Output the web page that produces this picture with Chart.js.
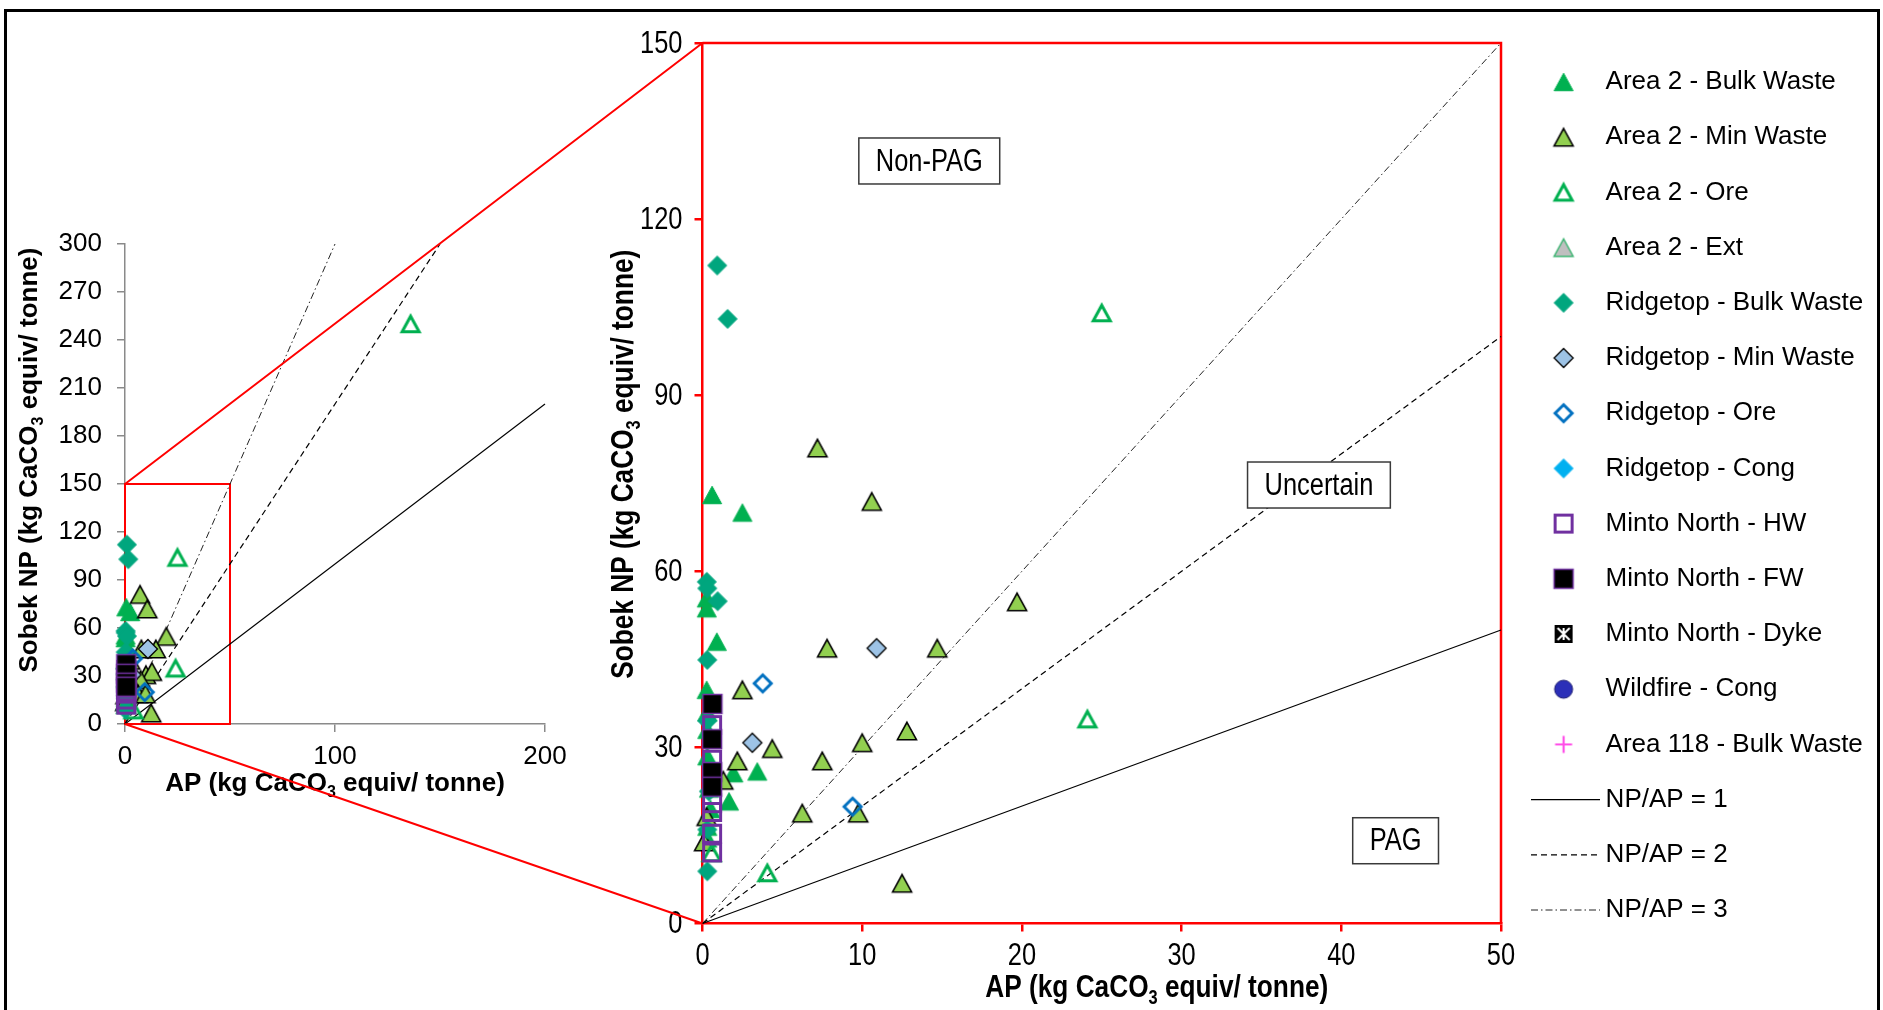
<!DOCTYPE html>
<html>
<head>
<meta charset="utf-8">
<title>Sobek NP vs AP</title>
<script src="https://cdn.jsdelivr.net/npm/chart.js@4.4.1/dist/chart.umd.min.js"></script>
<style>
  html, body { margin: 0; padding: 0; background: #fff; }
  #page { position: relative; width: 1883px; height: 1010px; overflow: hidden; background: #fff; }
  #frame { position: absolute; left: 4px; top: 9px; width: 1876px; height: 1100px; border: 3px solid #000; box-sizing: border-box; }
  canvas { position: absolute; }
  #overview { left: 0; top: 200px; }
  #detail { left: 560px; top: 0; }
  #links { left: 0; top: 0; pointer-events: none; }
</style>
</head>
<body>
<div id="page">
  <div id="frame"></div>
  <canvas id="overview" width="580" height="620"></canvas>
  <canvas id="detail" width="1323" height="1010"></canvas>
  <canvas id="links" width="1883" height="1010"></canvas>
</div>
<script>
// axis limits, kg CaCO3 equiv/ tonne
const overviewXMax = 200, overviewYMax = 300;
const overviewXStep = 100, overviewYStep = 30;
const detailXMax = 50, detailYMax = 150;
const detailXStep = 10, detailYStep = 30;

// samples as [AP, NP]
const area2Bulk = [[0.6, 73], [2.5, 70], [0.27, 55.4], [0.27, 53.7], [0.9, 48], [0.26, 39.8],
  [1.93, 25.6], [3.43, 25.9], [1.66, 20.8], [0.3, 36], [0.3, 33], [0.3, 28.5], [0.4, 23],
  [0.5, 19.5], [0.3, 16.5], [0.3, 14.5]];
const area2Min = [[7.2, 81], [10.6, 71.9], [19.7, 54.8], [7.8, 46.9], [14.7, 46.9], [2.5, 39.8],
  [4.37, 29.8], [10.0, 30.8], [12.8, 32.8], [7.5, 27.7], [2.18, 27.7], [1.3, 24.4], [6.25, 18.8],
  [9.75, 18.8], [12.5, 6.85], [0.26, 18.2], [0.1, 13.9]];
const area2Ore = [[25, 104], [24.1, 34.8], [4.06, 8.6], [0.57, 12], [136, 250]];
const area2Ext = [];
const ridgeBulk = [[0.92, 112.1], [1.57, 103], [0.27, 58.2], [0.3, 57.1], [0.95, 54.9], [0.3, 44.9],
  [0.3, 8.9], [0.3, 34.5], [0.4, 22.5], [0.3, 16]];
const ridgeMin = [[10.9, 46.9], [3.12, 30.8]];
const ridgeOre = [[3.77, 40.9], [9.4, 19.9]];
const ridgeCong = [];
const mintoHW = [[0.6, 33.8], [0.6, 27.9], [0.6, 20.5], [0.6, 19], [0.6, 15.3], [0.6, 12.1]];
const mintoFW = [[0.62, 37.4], [0.6, 31.4], [0.6, 25.8], [0.6, 23.3]];
const mintoDyke = [];
const wildfireCong = [];
const area118Bulk = [];

// NP/AP reference ratios
const npApRatios = [1, 2, 3];

// classification labels, placed in data units of the detail plot
const zoneNames = ["Non-PAG", "Uncertain", "PAG"];
const zoneAP = [14.2, 38.6, 43.4];
const zoneNP = [129.9, 74.7, 14.1];

const SANS = '"Liberation Sans", Arial, sans-serif';
const SQUEEZE = 0.82; // narrow lettering of the detail plot
Chart.defaults.font.family = SANS;
Chart.defaults.color = "#000";

// marker bitmaps, shared by the points and the legend
function makeMarker(shape, half, fill, stroke, lw) {
  const size = 28, c = size / 2;
  const cv = document.createElement("canvas");
  cv.width = cv.height = size;
  const g = cv.getContext("2d");
  g.beginPath();
  if (shape === "triangle") {
    g.moveTo(c, c - half * 0.92);
    g.lineTo(c + half, c + half * 0.92);
    g.lineTo(c - half, c + half * 0.92);
    g.closePath();
  } else if (shape === "diamond") {
    g.moveTo(c, c - half); g.lineTo(c + half, c); g.lineTo(c, c + half); g.lineTo(c - half, c);
    g.closePath();
  } else if (shape === "square") {
    g.rect(c - half, c - half, half * 2, half * 2);
  } else if (shape === "circle") {
    g.arc(c, c, half, 0, Math.PI * 2);
  } else if (shape === "plus") {
    g.moveTo(c - half, c); g.lineTo(c + half, c);
    g.moveTo(c, c - half); g.lineTo(c, c + half);
  }
  if (fill) { g.fillStyle = fill; g.fill(); }
  if (stroke) { g.strokeStyle = stroke; g.lineWidth = lw; g.stroke(); }
  if (shape === "dyke") {
    g.fillStyle = "#000";
    g.fillRect(c - half, c - half, half * 2, half * 2);
    g.strokeStyle = "#fff"; g.lineWidth = 2;
    const k = half - 3;
    g.beginPath();
    g.moveTo(c - k, c - k); g.lineTo(c + k, c + k);
    g.moveTo(c + k, c - k); g.lineTo(c - k, c + k);
    g.moveTo(c, c - k); g.lineTo(c, c + k);
    g.stroke();
  }
  return cv;
}

const series = [
  { label: "Area 2 - Bulk Waste", pts: area2Bulk, marker: makeMarker("triangle", 9.5, "#00B050", "#00B050", 1) },
  { label: "Area 2 - Min Waste", pts: area2Min, marker: makeMarker("triangle", 9.5, "#92D050", "#000", 1.6) },
  { label: "Area 2 - Ore", pts: area2Ore, marker: makeMarker("triangle", 8.5, null, "#00B050", 3) },
  { label: "Area 2 - Ext", pts: area2Ext, marker: makeMarker("triangle", 9.5, "#BFBFBF", "#3CB371", 1.5) },
  { label: "Ridgetop - Bulk Waste", pts: ridgeBulk, marker: makeMarker("diamond", 9.5, "#00A67E", "#00A67E", 1) },
  { label: "Ridgetop - Min Waste", pts: ridgeMin, marker: makeMarker("diamond", 9.5, "#9DC3E6", "#000", 1.3) },
  { label: "Ridgetop - Ore", pts: ridgeOre, marker: makeMarker("diamond", 8.5, null, "#0070C0", 3) },
  { label: "Ridgetop - Cong", pts: ridgeCong, marker: makeMarker("diamond", 9.5, "#00B0F0", "#00B0F0", 1) },
  { label: "Minto North - HW", pts: mintoHW, marker: makeMarker("square", 8.5, null, "#7030A0", 3) },
  { label: "Minto North - FW", pts: mintoFW, marker: makeMarker("square", 9.5, "#000", "#7030A0", 1.5) },
  { label: "Minto North - Dyke", pts: mintoDyke, marker: makeMarker("dyke", 9) },
  { label: "Wildfire - Cong", pts: wildfireCong, marker: makeMarker("circle", 9, "#2B2FB8", "#1A1A70", 1) },
  { label: "Area 118 - Bulk Waste", pts: area118Bulk, marker: makeMarker("plus", 8.5, null, "#FF4FE8", 2.2) },
];

const ratioStyles = [
  { dash: [], color: "#000", width: 1.2 },
  { dash: [6, 4], color: "#000", width: 1.2 },
  { dash: [7, 3, 1.5, 3], color: "#222", width: 1 },
];

function buildDatasets(xMax, yMax) {
  const n = series.length;
  const points = series.map((s, i) => ({
    label: s.label,
    data: s.pts.map(p => ({ x: p[0], y: p[1] })),
    pointStyle: s.marker,
    pointRadius: 10,
    pointHoverRadius: 10,
    showLine: false,
    clip: false,
    order: n - i, // later series sit on top
  }));
  const lines = npApRatios.map((r, k) => {
    const endX = Math.min(xMax, yMax / r);
    return {
      label: "NP/AP = " + r,
      data: [{ x: 0, y: 0 }, { x: endX, y: endX * r }],
      showLine: true,
      borderColor: ratioStyles[k].color,
      borderWidth: ratioStyles[k].width,
      borderDash: ratioStyles[k].dash,
      pointRadius: 0,
      fill: false,
      clip: false,
      order: 100 + k,
    };
  });
  return points.concat(lines);
}

// axis title with a subscript 3 in CaCO3
function drawAxisTitle(ctx, prefix, cx, cy, rot, size, squeeze) {
  const parts = [
    { t: prefix + " (kg CaCO", sub: false },
    { t: "3", sub: true },
    { t: " equiv/ tonne)", sub: false },
  ];
  const big = "bold " + size + "px " + SANS;
  const small = "bold " + Math.round(size * 0.62) + "px " + SANS;
  ctx.save();
  ctx.translate(cx, cy);
  ctx.rotate(rot);
  ctx.scale(squeeze, 1);
  ctx.fillStyle = "#000";
  ctx.textBaseline = "middle";
  ctx.textAlign = "left";
  let total = 0;
  parts.forEach(p => { ctx.font = p.sub ? small : big; total += ctx.measureText(p.t).width; });
  let x = -total / 2;
  parts.forEach(p => {
    ctx.font = p.sub ? small : big;
    ctx.fillText(p.t, x, p.sub ? size * 0.32 : 0);
    x += ctx.measureText(p.t).width;
  });
  ctx.restore();
}

// narrow text helper
function narrowText(ctx, text, x, y, align) {
  ctx.save();
  ctx.translate(x, y);
  ctx.scale(SQUEEZE, 1);
  ctx.textAlign = align;
  ctx.fillText(text, 0, 0);
  ctx.restore();
}

function axisOptions(max, step, color, width, tickFont, pad, fit, showLabels) {
  return {
    type: "linear",
    min: 0,
    max: max,
    ticks: { display: showLabels, stepSize: step, font: tickFont, color: "#000", padding: pad },
    grid: { drawOnChartArea: false, drawTicks: true, tickLength: 8, color: color, lineWidth: width },
    border: { display: true, color: color, width: width },
    afterFit: fit,
  };
}

// ---- overview plot ----
const overviewDecor = {
  id: "overviewDecor",
  beforeDatasetsDraw(chart) {
    // outline of the zoomed region
    const ctx = chart.ctx, sx = chart.scales.x, sy = chart.scales.y;
    ctx.save();
    ctx.strokeStyle = "#FF0000";
    ctx.lineWidth = 2;
    const x0 = sx.getPixelForValue(0), x1 = sx.getPixelForValue(detailXMax);
    const y0 = sy.getPixelForValue(0), y1 = sy.getPixelForValue(detailYMax);
    ctx.strokeRect(x0, y1, x1 - x0, y0 - y1);
    ctx.restore();
  },
  afterDraw(chart) {
    const a = chart.chartArea, ctx = chart.ctx;
    drawAxisTitle(ctx, "AP", (a.left + a.right) / 2, a.bottom + 60, 0, 26, 1);
    drawAxisTitle(ctx, "Sobek NP", a.left - 95, (a.top + a.bottom) / 2 - 24, -Math.PI / 2, 26, 1);
  },
};

const overviewFont = { family: SANS, size: 26 };
const overview = new Chart(document.getElementById("overview"), {
  type: "scatter",
  data: { datasets: buildDatasets(overviewXMax, overviewYMax) },
  options: {
    responsive: false,
    animation: false,
    events: [],
    layout: { padding: { left: 0, top: 44, right: 35, bottom: 0 }, autoPadding: false },
    plugins: { legend: { display: false }, tooltip: { enabled: false } },
    scales: {
      x: axisOptions(overviewXMax, overviewXStep, "#8A8A8A", 1.5, overviewFont, 9, s => { s.height = 96; }, true),
      y: axisOptions(overviewYMax, overviewYStep, "#8A8A8A", 1.5, overviewFont, 15, s => { s.width = 125; }, true),
    },
  },
  plugins: [overviewDecor],
});

// ---- detail plot ----
const detailDecor = {
  id: "detailDecor",
  beforeDatasetsDraw(chart) {
    // top and right edges of the red frame
    const a = chart.chartArea, ctx = chart.ctx;
    ctx.save();
    ctx.strokeStyle = "#FF0000";
    ctx.lineWidth = 2.5;
    ctx.beginPath();
    ctx.moveTo(a.left, a.top);
    ctx.lineTo(a.right, a.top);
    ctx.lineTo(a.right, a.bottom);
    ctx.stroke();
    ctx.restore();
  },
  afterDraw(chart) {
    const a = chart.chartArea, ctx = chart.ctx;
    const sx = chart.scales.x, sy = chart.scales.y;

    // tick labels in narrow lettering, positioned by the scales
    ctx.save();
    ctx.font = "31px " + SANS;
    ctx.fillStyle = "#000";
    ctx.textBaseline = "middle";
    sy.ticks.forEach(t => narrowText(ctx, String(t.value), a.left - 20, sy.getPixelForValue(t.value) + 1, "right"));
    sx.ticks.forEach(t => narrowText(ctx, String(t.value), sx.getPixelForValue(t.value), a.bottom + 33, "center"));
    ctx.restore();

    // zone boxes
    ctx.save();
    ctx.font = "31px " + SANS;
    ctx.textBaseline = "middle";
    zoneNames.forEach((name, i) => {
      const cx = sx.getPixelForValue(zoneAP[i]);
      const cy = sy.getPixelForValue(zoneNP[i]);
      const w = ctx.measureText(name).width * SQUEEZE + 34;
      const h = 46;
      ctx.fillStyle = "#fff";
      ctx.fillRect(cx - w / 2, cy - h / 2, w, h);
      ctx.strokeStyle = "#3A3A3A";
      ctx.lineWidth = 1.5;
      ctx.strokeRect(cx - w / 2, cy - h / 2, w, h);
      ctx.fillStyle = "#000";
      narrowText(ctx, name, cx, cy + 1, "center");
    });
    ctx.restore();

    drawAxisTitle(ctx, "AP", (a.left + a.right) / 2 + 55, a.bottom + 64.5, 0, 32, SQUEEZE);
    drawAxisTitle(ctx, "Sobek NP", a.left - 78, (a.top + a.bottom) / 2 - 19, -Math.PI / 2, 32, SQUEEZE);

    // legend
    ctx.save();
    ctx.font = "26px " + SANS;
    ctx.fillStyle = "#000";
    ctx.textBaseline = "middle";
    ctx.textAlign = "left";
    const rowH = 55.2;
    let row = 0;
    series.forEach(s => {
      const y = a.top + 39 + row * rowH;
      ctx.drawImage(s.marker, a.right + 62.6 - s.marker.width / 2, y - s.marker.height / 2);
      ctx.fillText(s.label, a.right + 104.6, y);
      row++;
    });
    npApRatios.forEach((r, k) => {
      const y = a.top + 39 + row * rowH;
      ctx.save();
      ctx.strokeStyle = ratioStyles[k].color;
      ctx.lineWidth = ratioStyles[k].width;
      ctx.setLineDash(ratioStyles[k].dash);
      ctx.beginPath();
      ctx.moveTo(a.right + 30, y);
      ctx.lineTo(a.right + 99, y);
      ctx.stroke();
      ctx.restore();
      ctx.fillText("NP/AP = " + r, a.right + 104.6, y);
      row++;
    });
    ctx.restore();
  },
};

const detail = new Chart(document.getElementById("detail"), {
  type: "scatter",
  data: { datasets: buildDatasets(detailXMax, detailYMax) },
  options: {
    responsive: false,
    animation: false,
    events: [],
    layout: { padding: { left: 0, top: 43, right: 382, bottom: 0 }, autoPadding: false },
    plugins: { legend: { display: false }, tooltip: { enabled: false } },
    scales: {
      x: axisOptions(detailXMax, detailXStep, "#FF0000", 2.5, { size: 31 }, 6, s => { s.height = 86.5; }, false),
      y: axisOptions(detailYMax, detailYStep, "#FF0000", 2.5, { size: 31 }, 12, s => { s.width = 142.5; }, false),
    },
  },
  plugins: [detailDecor],
});

// red guide lines joining the zoomed region to the detail plot
function drawLinks() {
  const ov = document.getElementById("overview");
  const dt = document.getElementById("detail");
  const g = document.getElementById("links").getContext("2d");
  const sx = overview.scales.x, sy = overview.scales.y;
  const a = detail.chartArea;
  g.strokeStyle = "#FF0000";
  g.lineWidth = 2;
  g.beginPath();
  g.moveTo(ov.offsetLeft + sx.getPixelForValue(0), ov.offsetTop + sy.getPixelForValue(detailYMax));
  g.lineTo(dt.offsetLeft + a.left, dt.offsetTop + a.top);
  g.moveTo(ov.offsetLeft + sx.getPixelForValue(0), ov.offsetTop + sy.getPixelForValue(0));
  g.lineTo(dt.offsetLeft + a.left, dt.offsetTop + a.bottom);
  g.stroke();
}
drawLinks();
</script>
</body>
</html>
